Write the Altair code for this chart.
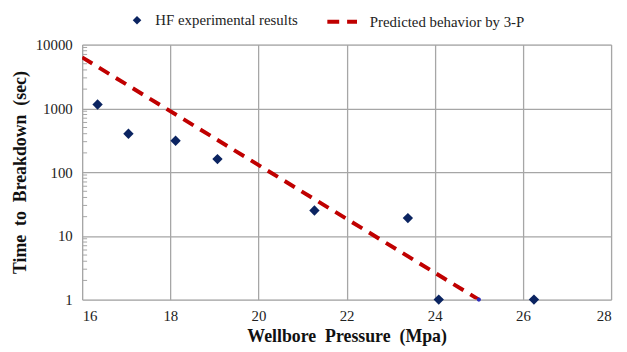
import altair as alt
import pandas as pd

# HF experimental results
exp_pressure = [16.35, 17.05, 18.12, 19.07, 21.27, 23.39, 24.09, 26.25]
exp_time = [1150, 400, 310, 160, 25, 19, 1, 1]

# Predicted behavior by 3-P (straight line in log space)
pred_pressure = [16.0, 25.0]
pred_time = [6300, 1]

# small end marker
end_pressure = [25.0]
end_time = [1]

minor_vals = [m * d for d in [1, 10, 100, 1000] for m in range(2, 10)]

exp_df = pd.DataFrame({"p": exp_pressure, "t": exp_time, "s": "HF experimental results"})
pred_df = pd.DataFrame({"p": pred_pressure, "t": pred_time, "s": "Predicted behavior by 3-P"})
end_df = pd.DataFrame({"p": end_pressure, "t": end_time})
minor_df = pd.DataFrame({"t": minor_vals})

FONT = "Liberation Serif"
NAVY = "#0B2461"
RED = "#C00000"
GRID = "#A6A6A6"
NB = "\u00a0"

xscale = alt.Scale(domain=[16, 28], nice=False, zero=False)
yscale = alt.Scale(type="log", domain=[1, 10000], nice=False)

xaxis = alt.Axis(
    values=[16, 18, 20, 22, 24, 26, 28], title=f"Wellbore{NB} Pressure{NB} (Mpa)", grid=True,
    gridColor=GRID, gridWidth=1.3, ticks=False, domain=False, labelFont=FONT,
    labelFontSize=15, labelColor="#222222", labelPadding=9, titleFont=FONT,
    titleFontSize=18, titleFontWeight="bold", titleColor="#111111", titlePadding=4,
)
yaxis = alt.Axis(
    values=[1, 10, 100, 1000, 10000], title=f"Time{NB} to{NB} Breakdown{NB} (sec)", grid=True,
    gridColor=GRID, gridWidth=1.3, ticks=False, domain=False, labelFont=FONT,
    labelFontSize=15, labelColor="#222222", labelPadding=10, titleFont=FONT,
    titleFontSize=18, titleFontWeight="bold", titleColor="#111111", titlePadding=6,
    format="d",
)

minor = alt.Chart(minor_df).mark_rule(color=GRID, strokeWidth=1).encode(
    y=alt.Y("t:Q", scale=yscale, axis=yaxis),
    x=alt.value(0), x2=alt.value(5),
)

line = alt.Chart(pred_df).mark_line(color=RED, strokeWidth=4, clip=True).encode(
    x=alt.X("p:Q", scale=xscale, axis=xaxis),
    y=alt.Y("t:Q", scale=yscale),
    strokeDash=alt.StrokeDash(
        "s:N", scale=alt.Scale(range=[[12, 8]]),
        legend=alt.Legend(
            orient="none", legendX=246, legendY=-40, title=None, symbolType="stroke",
            symbolStrokeColor=RED, symbolStrokeWidth=4, symbolSize=900,
            labelFont=FONT, labelFontSize=15, labelColor="#222222", labelOffset=11,
        ),
    ),
)

pts = alt.Chart(exp_df).mark_point(
    shape="diamond", filled=True, color=NAVY, size=110, opacity=1
).encode(
    x=alt.X("p:Q", scale=xscale),
    y=alt.Y("t:Q", scale=yscale),
    shape=alt.Shape(
        "s:N", scale=alt.Scale(range=["diamond"]),
        legend=alt.Legend(
            orient="none", legendX=48, legendY=-32, title=None,
            symbolFillColor=NAVY, symbolStrokeColor=NAVY, symbolSize=75,
            labelFont=FONT, labelFontSize=15, labelColor="#222222", labelOffset=11,
        ),
    ),
)

end = alt.Chart(end_df).mark_point(filled=True, color="#2B2BB8", size=18, opacity=1).encode(
    x=alt.X("p:Q", scale=xscale),
    y=alt.Y("t:Q", scale=yscale),
)

chart = alt.layer(minor, line, pts, end).properties(
    width=535, height=258,
    autosize=alt.AutoSizeParams(type="none"),
    padding={"left": 75, "top": 35, "right": 8, "bottom": 50},
).configure_view(stroke=GRID, strokeWidth=1.3).configure(background="white")

chart.save("out.html", embed_options={"renderer": "svg", "actions": False})
